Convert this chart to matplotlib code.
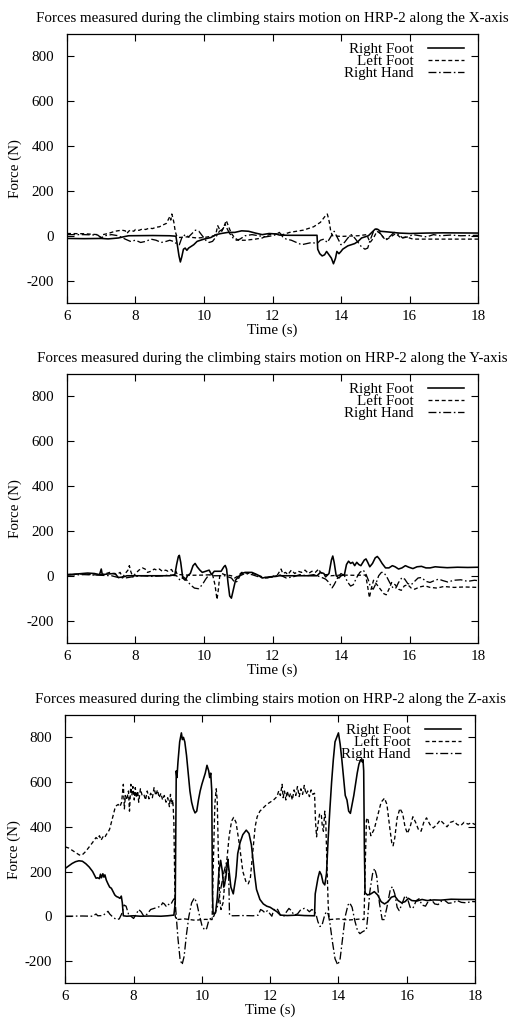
import matplotlib
matplotlib.use("Agg")
import matplotlib.pyplot as plt

# ---------------- data (time in s, force in N) ----------------
# X axis
t_rf_x = [6.00, 6.50, 7.00, 7.20, 7.50, 7.70, 7.80, 8.50, 9.00, 9.18, 9.22, 9.27, 9.31, 9.35, 9.40, 9.45, 9.50, 9.55, 9.60, 9.70, 9.80, 9.90, 10.00, 10.20, 10.35, 10.50, 10.70, 10.90, 11.10, 11.30, 11.50, 11.70, 11.90, 12.10, 12.20, 12.50, 13.00, 13.30, 13.32, 13.38, 13.45, 13.52, 13.58, 13.65, 13.72, 13.78, 13.84, 13.88, 13.94, 14.00, 14.05, 14.10, 14.20, 14.30, 14.40, 14.50, 14.60, 14.70, 14.80, 14.90, 15.00, 15.08, 15.15, 15.30, 15.50, 15.70, 16.00, 16.50, 17.00, 18.00]
f_rf_x = [-12, -13, -12, -14, -10, -3, 0, 1, 0, -2, -40, -90, -117, -95, -60, -55, -65, -55, -50, -40, -25, -20, -15, -8, 5, 10, 15, 15, 22, 20, 12, 5, 10, 8, 3, 2, 2, 2, -60, -80, -90, -85, -70, -85, -100, -125, -100, -70, -80, -70, -60, -55, -45, -40, -35, -25, -10, -5, 0, 15, 30, 28, 20, 18, 15, 12, 10, 12, 13, 12]

t_lf_x = [6.00, 6.50, 6.90, 7.00, 7.05, 7.20, 7.40, 7.60, 7.70, 7.75, 7.80, 7.85, 7.95, 8.00, 8.10, 8.20, 8.30, 8.40, 8.50, 8.60, 8.70, 8.80, 8.90, 8.95, 9.00, 9.03, 9.06, 9.09, 9.12, 9.16, 9.20, 9.25, 9.50, 9.80, 10.00, 10.30, 10.35, 10.40, 10.45, 10.52, 10.58, 10.65, 10.72, 10.80, 10.90, 11.00, 11.20, 11.50, 11.70, 11.90, 12.10, 12.30, 12.50, 12.70, 12.90, 13.00, 13.10, 13.20, 13.30, 13.40, 13.50, 13.55, 13.60, 13.63, 13.66, 13.70, 13.75, 14.00, 14.50, 14.75, 14.85, 14.95, 15.05, 15.15, 15.30, 15.45, 15.60, 15.75, 15.90, 16.10, 16.50, 17.00, 18.00]
f_lf_x = [10, 9, 5, -10, 5, 10, 20, 25, 22, 10, 20, 25, 20, 28, 24, 30, 28, 34, 32, 38, 40, 48, 55, 70, 85, 70, 97, 80, 60, 20, 0, -8, -5, -10, -8, 0, 10, 45, 30, 20, 40, 68, 40, 10, -10, -20, -20, -15, -10, 5, 8, 5, 15, 20, 25, 30, 35, 40, 50, 60, 80, 90, 97, 80, 60, 20, 0, -3, 0, 5, -30, -10, 20, 10, -20, -5, 10, -10, -5, -15, -15, -15, -15]

t_rh_x = [6.00, 6.50, 6.90, 7.00, 7.10, 7.30, 7.50, 7.70, 7.85, 8.00, 8.15, 8.30, 8.45, 8.60, 8.75, 8.90, 9.00, 9.10, 9.20, 9.28, 9.35, 9.45, 9.55, 9.65, 9.75, 9.85, 9.95, 10.05, 10.15, 10.25, 10.35, 10.45, 10.55, 10.62, 10.68, 10.75, 10.85, 10.95, 11.05, 11.20, 11.40, 11.60, 11.80, 12.00, 12.10, 12.20, 12.30, 12.40, 12.55, 12.70, 12.85, 13.00, 13.15, 13.30, 13.40, 13.50, 13.60, 13.70, 13.80, 13.90, 14.00, 14.10, 14.20, 14.30, 14.40, 14.50, 14.60, 14.70, 14.78, 14.85, 14.95, 15.05, 15.15, 15.25, 15.35, 15.45, 15.55, 15.65, 15.80, 15.95, 16.10, 16.30, 16.50, 16.70, 16.90, 17.20, 17.50, 18.00]
f_rh_x = [5, 5, 3, -10, 0, 5, 0, -15, -25, -20, -30, -25, -15, -20, -30, -25, -20, -25, -35, -40, -10, 5, -5, 10, 25, 20, 0, -20, -30, -25, -5, 20, 30, 50, 30, 10, -10, -20, -15, 0, 5, 0, -5, 0, 5, 15, -5, -15, -20, -30, -40, -35, -30, -35, -20, -15, -30, -5, 20, -10, -40, -30, -10, 5, -10, -30, -50, -60, -55, -20, 20, 30, 10, -10, -15, 0, 15, 10, -10, -5, 5, 0, -5, 5, 0, 3, 0, 2]

# Y axis
t_rf_y = [6.00, 6.30, 6.60, 6.80, 6.95, 7.00, 7.03, 7.20, 7.40, 7.50, 7.65, 7.75, 8.50, 9.00, 9.15, 9.20, 9.25, 9.28, 9.32, 9.38, 9.45, 9.52, 9.60, 9.68, 9.74, 9.80, 9.88, 9.95, 10.05, 10.15, 10.22, 10.30, 10.40, 10.50, 10.58, 10.62, 10.66, 10.70, 10.75, 10.80, 10.86, 10.92, 11.00, 11.10, 11.20, 11.40, 11.55, 11.70, 11.90, 12.10, 12.20, 13.30, 13.40, 13.50, 13.55, 13.65, 13.72, 13.76, 13.80, 13.86, 13.94, 14.00, 14.10, 14.16, 14.22, 14.28, 14.34, 14.40, 14.46, 14.52, 14.58, 14.62, 14.68, 14.73, 14.78, 14.84, 14.92, 15.00, 15.06, 15.12, 15.20, 15.30, 15.40, 15.50, 15.58, 15.68, 15.78, 15.88, 15.98, 16.10, 16.22, 16.35, 16.48, 16.60, 16.75, 16.90, 17.10, 17.40, 17.70, 18.00]
f_rf_y = [5, 8, 12, 10, 5, 30, 5, 8, 10, -8, -5, 0, 0, 0, 5, 50, 85, 91, 60, -10, -20, 0, 10, 45, 55, 40, 25, 15, 20, 25, 5, 20, 20, 20, 40, 46, 30, -30, -90, -100, -60, -20, -5, 10, 15, 15, 5, -10, -5, -3, 0, 0, 15, 10, -5, 10, 70, 88, 60, 0, -10, 0, 5, 50, 65, 55, 60, 45, 60, 50, 45, 55, 70, 75, 60, 40, 55, 80, 86, 75, 55, 35, 35, 45, 40, 30, 35, 45, 38, 32, 40, 42, 35, 35, 40, 38, 36, 38, 37, 38]

t_lf_y = [6.00, 6.50, 6.90, 7.10, 7.25, 7.35, 7.45, 7.55, 7.62, 7.70, 7.78, 7.82, 7.86, 7.92, 8.00, 8.10, 8.20, 8.28, 8.35, 8.45, 8.55, 8.62, 8.70, 8.78, 8.88, 8.95, 9.05, 9.10, 9.18, 9.22, 9.30, 9.60, 10.00, 10.25, 10.32, 10.38, 10.42, 10.46, 10.52, 10.60, 10.80, 10.90, 11.00, 11.10, 11.20, 11.40, 11.55, 11.70, 11.90, 12.05, 12.15, 12.25, 12.30, 12.38, 12.45, 12.55, 12.65, 12.75, 12.85, 12.95, 13.05, 13.15, 13.25, 13.35, 13.40, 13.50, 13.60, 13.70, 14.00, 14.40, 14.72, 14.78, 14.83, 14.88, 14.95, 15.05, 15.15, 15.25, 15.32, 15.40, 15.48, 15.58, 15.68, 15.76, 15.85, 15.95, 16.05, 16.15, 16.30, 16.45, 16.60, 16.80, 17.00, 17.30, 17.60, 18.00]
f_lf_y = [5, 8, 3, 8, 15, 10, 5, 15, -8, 10, 25, 45, 20, -5, 10, 25, 35, 30, 15, 20, 30, 25, 30, 20, 25, 20, 28, 15, 20, 5, 5, 2, 3, 5, -40, -106, -60, 0, 10, 5, 0, -10, 0, 15, 12, 10, 5, -5, -10, 0, 5, 30, 10, 15, 5, 25, 10, 20, 15, 25, 10, 20, 15, 30, 15, 5, 5, 0, 3, 2, 3, -50, -98, -60, -20, -40, -60, -80, -85, -60, -30, -40, -60, -65, -45, -40, -55, -60, -50, -45, -52, -55, -48, -52, -50, -52]

t_rh_y = [6.00, 6.50, 7.00, 7.30, 7.50, 7.70, 7.90, 8.20, 8.50, 8.80, 9.00, 9.20, 9.30, 9.40, 9.50, 9.60, 9.72, 9.84, 9.95, 10.05, 10.15, 10.25, 10.40, 10.60, 10.80, 10.90, 10.97, 11.05, 11.20, 11.40, 11.60, 11.80, 12.00, 12.20, 12.40, 12.60, 12.80, 13.00, 13.20, 13.40, 13.55, 13.65, 13.74, 13.80, 13.90, 14.00, 14.10, 14.20, 14.28, 14.36, 14.45, 14.55, 14.65, 14.72, 14.80, 14.86, 14.94, 15.02, 15.10, 15.18, 15.24, 15.32, 15.42, 15.52, 15.60, 15.68, 15.78, 15.86, 15.95, 16.05, 16.15, 16.25, 16.35, 16.48, 16.60, 16.72, 16.85, 16.98, 17.12, 17.30, 17.50, 17.70, 17.90, 18.00]
f_rh_y = [3, 5, 2, 0, -8, -10, -5, 0, -3, 0, 3, 0, -20, -5, -20, -40, -55, -58, -40, -15, 5, 0, 0, 0, -10, -30, -25, 0, 10, 5, -5, -10, -5, 5, -10, -5, 5, 0, 5, -5, -15, -30, -54, -40, -10, 10, 0, -30, -46, -40, -10, 15, 25, 10, -20, -50, -60, -35, 0, 15, 15, 0, -30, -55, -55, -30, -8, -15, -35, -40, -25, -10, -8, -25, -30, -22, -15, -22, -28, -20, -18, -25, -20, -22]

# Z axis
t_rf_z = [6.00, 6.10, 6.20, 6.30, 6.40, 6.50, 6.60, 6.70, 6.80, 6.85, 6.90, 6.95, 7.00, 7.03, 7.06, 7.10, 7.13, 7.16, 7.20, 7.25, 7.30, 7.35, 7.40, 7.45, 7.50, 7.55, 7.60, 7.64, 7.67, 7.70, 7.80, 8.00, 8.20, 8.50, 8.80, 9.00, 9.18, 9.22, 9.25, 9.27, 9.30, 9.35, 9.40, 9.43, 9.46, 9.50, 9.55, 9.60, 9.65, 9.70, 9.75, 9.80, 9.85, 9.90, 9.95, 10.00, 10.05, 10.10, 10.15, 10.20, 10.23, 10.26, 10.29, 10.31, 10.33, 10.40, 10.45, 10.50, 10.55, 10.60, 10.64, 10.70, 10.76, 10.80, 10.85, 10.92, 11.00, 11.05, 11.12, 11.20, 11.30, 11.38, 11.45, 11.50, 11.55, 11.60, 11.70, 11.80, 11.90, 12.00, 12.10, 12.20, 12.30, 12.50, 12.80, 13.00, 13.30, 13.32, 13.40, 13.45, 13.50, 13.55, 13.60, 13.65, 13.70, 13.75, 13.80, 13.85, 13.90, 13.95, 14.00, 14.05, 14.10, 14.15, 14.20, 14.25, 14.30, 14.35, 14.40, 14.45, 14.50, 14.55, 14.60, 14.65, 14.70, 14.72, 14.74, 14.76, 14.78, 14.85, 14.95, 15.05, 15.15, 15.25, 15.35, 15.45, 15.55, 15.65, 15.75, 15.85, 15.95, 16.05, 16.15, 16.30, 16.45, 16.60, 16.80, 17.00, 17.30, 17.60, 18.00]
f_rf_z = [214, 225, 236, 244, 248, 246, 235, 220, 200, 185, 170, 172, 168, 188, 172, 190, 175, 185, 162, 145, 130, 125, 110, 95, 88, 85, 80, 90, 60, 2, 0, 2, 0, 1, 0, 2, 5, 60, 650, 620, 690, 780, 820, 790, 800, 780, 720, 640, 560, 510, 480, 462, 470, 520, 560, 590, 615, 640, 675, 650, 620, 640, 560, 100, 10, 15, 80, 200, 250, 200, 130, 170, 250, 200, 130, 100, 180, 280, 330, 365, 385, 370, 320, 250, 180, 120, 75, 55, 45, 40, 30, 20, 5, 3, 5, 3, 2, 100, 170, 200, 185, 150, 140, 190, 350, 480, 600, 700, 780, 800, 820, 770, 700, 620, 540, 520, 470, 460, 500, 540, 590, 640, 680, 700, 690, 700, 650, 300, 105, 95, 100, 110, 95, 65, 55, 65, 85, 90, 70, 60, 65, 80, 70, 68, 75, 70, 73, 72, 76, 75, 75]

t_lf_z = [6.00, 6.10, 6.20, 6.30, 6.40, 6.45, 6.50, 6.60, 6.70, 6.80, 6.90, 6.95, 7.00, 7.05, 7.10, 7.15, 7.20, 7.25, 7.30, 7.35, 7.40, 7.45, 7.50, 7.55, 7.60, 7.65, 7.70, 7.73, 7.76, 7.80, 7.85, 7.88, 7.92, 7.95, 7.98, 8.02, 8.05, 8.08, 8.12, 8.15, 8.20, 8.25, 8.30, 8.35, 8.40, 8.45, 8.50, 8.55, 8.60, 8.65, 8.70, 8.75, 8.80, 8.85, 8.90, 8.95, 9.00, 9.05, 9.08, 9.12, 9.15, 9.18, 9.20, 9.22, 9.25, 9.50, 9.80, 10.10, 10.30, 10.33, 10.38, 10.42, 10.45, 10.48, 10.52, 10.56, 10.62, 10.70, 10.80, 10.87, 10.93, 11.00, 11.10, 11.20, 11.30, 11.36, 11.42, 11.50, 11.56, 11.62, 11.70, 11.80, 11.90, 12.00, 12.10, 12.20, 12.25, 12.30, 12.35, 12.38, 12.42, 12.46, 12.50, 12.55, 12.60, 12.65, 12.70, 12.75, 12.80, 12.85, 12.90, 12.95, 13.00, 13.05, 13.10, 13.15, 13.20, 13.25, 13.30, 13.33, 13.36, 13.40, 13.45, 13.50, 13.53, 13.56, 13.60, 13.63, 13.66, 13.70, 13.73, 14.00, 14.30, 14.60, 14.75, 14.78, 14.82, 14.86, 14.90, 14.95, 15.05, 15.15, 15.25, 15.35, 15.42, 15.50, 15.56, 15.60, 15.65, 15.72, 15.80, 15.88, 15.95, 16.02, 16.10, 16.18, 16.26, 16.35, 16.42, 16.50, 16.58, 16.68, 16.78, 16.88, 16.98, 17.08, 17.18, 17.28, 17.38, 17.48, 17.58, 17.68, 17.80, 17.90, 18.00]
f_lf_z = [310, 305, 295, 285, 275, 272, 275, 290, 310, 330, 352, 345, 360, 340, 355, 350, 365, 375, 390, 420, 450, 480, 495, 500, 490, 510, 590, 480, 540, 520, 560, 470, 590, 540, 580, 520, 575, 530, 560, 510, 570, 540, 545, 520, 560, 525, 550, 530, 575, 540, 565, 530, 550, 520, 540, 510, 530, 490, 545, 500, 520, 420, 200, 0, -15, -12, -18, -14, -15, 200, 500, 570, 520, 300, 80, 30, 60, 200, 360, 425, 442, 420, 320, 200, 150, 145, 170, 300, 400, 445, 470, 485, 500, 510, 520, 535, 560, 540, 590, 530, 560, 520, 560, 530, 550, 520, 565, 540, 580, 535, 570, 545, 585, 545, 560, 535, 565, 545, 550, 420, 355, 410, 460, 450, 400, 380, 470, 420, 250, 50, -15, -12, -17, -13, -15, 200, 430, 440, 400, 360, 390, 450, 510, 528, 500, 400, 330, 315, 350, 440, 482, 460, 400, 370, 400, 445, 420, 385, 380, 420, 440, 410, 395, 410, 430, 415, 400, 420, 425, 410, 405, 420, 412, 418, 410]

t_rh_z = [6.00, 6.50, 6.80, 6.90, 6.95, 7.10, 7.20, 7.25, 7.30, 7.40, 7.50, 7.58, 7.65, 7.72, 7.78, 7.85, 7.92, 8.00, 8.08, 8.15, 8.22, 8.30, 8.40, 8.50, 8.60, 8.70, 8.80, 8.85, 8.90, 8.95, 9.00, 9.05, 9.10, 9.15, 9.20, 9.23, 9.26, 9.30, 9.36, 9.42, 9.48, 9.55, 9.62, 9.70, 9.78, 9.85, 9.92, 10.00, 10.08, 10.14, 10.20, 10.28, 10.35, 10.45, 10.55, 10.65, 10.72, 10.77, 10.79, 10.81, 10.90, 11.20, 11.50, 11.65, 11.72, 11.78, 11.85, 11.92, 12.00, 12.05, 12.10, 12.15, 12.22, 12.30, 12.40, 12.48, 12.55, 12.62, 12.70, 12.80, 12.90, 13.00, 13.08, 13.15, 13.22, 13.28, 13.34, 13.40, 13.46, 13.52, 13.58, 13.64, 13.70, 13.75, 13.82, 13.90, 13.98, 14.05, 14.12, 14.20, 14.28, 14.33, 14.40, 14.48, 14.56, 14.63, 14.70, 14.76, 14.82, 14.86, 14.92, 15.00, 15.06, 15.12, 15.20, 15.28, 15.34, 15.42, 15.52, 15.58, 15.65, 15.72, 15.78, 15.85, 15.95, 16.02, 16.10, 16.18, 16.28, 16.36, 16.45, 16.55, 16.65, 16.72, 16.82, 16.92, 17.02, 17.12, 17.22, 17.35, 17.48, 17.60, 17.75, 17.90, 18.00]
f_rh_z = [0, 1, 0, 10, 2, 3, 15, 22, 10, -5, -15, -12, 10, 50, 45, 10, 0, -10, 10, 30, 20, 0, 10, 30, 35, 40, 45, 60, 55, 45, 55, 50, 55, 70, 80, 40, -20, -100, -190, -217, -180, -80, 0, 60, 82, 60, 10, -40, -62, -55, -20, -5, 0, 40, 120, 200, 240, 255, 150, 5, 2, 3, 2, 5, 30, 25, 15, 25, 10, 0, 25, 35, 30, 5, 0, 20, 35, 25, 5, 10, 30, 35, 30, 20, 30, 25, 10, -25, -46, -40, -5, 20, 10, -30, -110, -190, -218, -190, -100, 0, 50, 60, 40, -20, -65, -78, -70, -65, -60, 0, 110, 190, 214, 180, 60, -15, -15, 40, 120, 132, 100, 40, 25, 50, 92, 80, 40, 35, 70, 78, 50, 45, 72, 75, 55, 52, 68, 70, 58, 60, 70, 62, 60, 66, 65]

labels = ["Right Foot", "Left Foot", "Right Hand"]
titles = ["Forces measured during the climbing stairs motion on HRP-2 along the X-axis",
          "Forces measured during the climbing stairs motion on HRP-2 along the Y-axis",
          "Forces measured during the climbing stairs motion on HRP-2 along the Z-axis"]
x_ticks = [6, 8, 10, 12, 14, 16, 18]
y_ticks = [-200, 0, 200, 400, 600, 800]

panels = [
    ((t_rf_x, f_rf_x), (t_lf_x, f_lf_x), (t_rh_x, f_rh_x)),
    ((t_rf_y, f_rf_y), (t_lf_y, f_lf_y), (t_rh_y, f_rh_y)),
    ((t_rf_z, f_rf_z), (t_lf_z, f_lf_z), (t_rh_z, f_rh_z)),
]

# ---------------- figure ----------------
plt.rcParams["font.family"] = ["Liberation Serif", "DejaVu Serif"]
plt.rcParams["font.size"] = 10.8
plt.rcParams["axes.unicode_minus"] = False

W, H = 511, 1021
fig = plt.figure(figsize=(W / 100, H / 100), dpi=100)

# axes boxes in pixels: left, top, right, bottom
boxes = [(67, 34, 478, 303), (67, 374, 478, 643), (65.3, 715, 475, 983.3)]
styles = [dict(ls="-", lw=1.15),
          dict(ls=(0, (3, 2)), lw=0.95),
          dict(ls=(0, (6, 2, 1.2, 2)), lw=0.95)]

for (l, t, r, b), series, title in zip(boxes, panels, titles):
    ax = fig.add_axes([l / W, 1 - b / H, (r - l) / W, (b - t) / H])
    for (tt, ff), lab, st in zip(series, labels, styles):
        ax.plot(tt, ff, color="black", label=lab, **st)
    ax.set_xlim(6, 18)
    ax.set_ylim(-300, 900)
    ax.set_xticks(x_ticks)
    ax.set_yticks(y_ticks)
    ax.tick_params(direction="in", top=True, right=True, length=5, width=0.8)
    ax.tick_params(axis="y", pad=9.5)
    ax.tick_params(axis="x", pad=5)
    for sp in ax.spines.values():
        sp.set_linewidth(0.9)
    ax.set_title(title, pad=8.5, fontsize=10.85)
    ax.set_xlabel("Time (s)", labelpad=0.5)
    ax.set_ylabel("Force (N)", labelpad=3)
    ax.legend(loc="upper right", bbox_to_anchor=(0.965, 0.967), frameon=False,
              markerfirst=False, handlelength=2.4, handletextpad=0.93,
              labelspacing=-0.1, borderpad=0, borderaxespad=0, fontsize=10.8)

fig.savefig("out.png", dpi=100)
